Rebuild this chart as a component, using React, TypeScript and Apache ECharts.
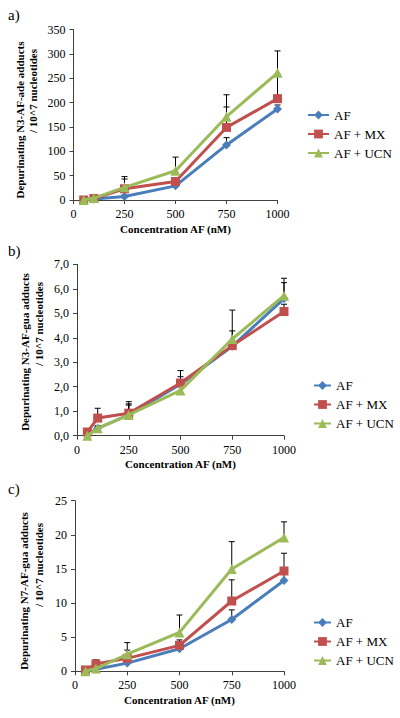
import React, { useEffect, useRef } from 'react';
import * as echarts from 'echarts';

const concentrations = [50, 100, 250, 500, 750, 1000];
const seriesNames = ['AF', 'AF + MX', 'AF + UCN'];
const xTicks = [0, 250, 500, 750, 1000];

// Panel a) N3-AF-ade
const adeAF = [0, 2, 7, 29, 113, 187];
const adeMX = [0, 3, 23, 38, 149, 208];
const adeUCN = [0, 4, 26, 60, 171, 261];
const adeErrAF = [1, 1, 3, 5, 15, 8];
const adeErrMX = [1, 2, 20, 8, 42, 50];
const adeErrUCN = [1, 2, 22, 28, 45, 45];

// Panel b) N3-AF-gua
const n3AF = [0.05, 0.3, 0.85, 2.1, 3.65, 5.6];
const n3MX = [0.15, 0.72, 0.92, 2.15, 3.68, 5.07];
const n3UCN = [0.0, 0.3, 0.85, 1.85, 3.95, 5.72];
const n3ErrAF = [0.02, 0.1, 0.45, 0.31, 0.2, 0.65];
const n3ErrMX = [0.05, 0.4, 0.47, 0.51, 0.6, 0.3];
const n3ErrUCN = [0.02, 0.1, 0.4, 0.3, 1.18, 0.71];

// Panel c) N7-AF-gua
const n7AF = [0, 0.3, 1.2, 3.3, 7.6, 13.3];
const n7MX = [0.2, 1.07, 1.9, 3.8, 10.3, 14.7];
const n7UCN = [0.0, 0.4, 2.5, 5.7, 15.0, 19.6];
const n7ErrAF = [0.1, 0.2, 0.4, 0.5, 1.4, 1.0];
const n7ErrMX = [0.1, 0.6, 1.2, 0.8, 3.1, 2.6];
const n7ErrUCN = [0.1, 0.3, 1.7, 2.55, 4.0, 2.3];

const yMaxes = [350, 7, 25];
const yIntervals = [50, 1, 5];
const panelLabels = ['a)', 'b)', 'c)'];
const yTitles = [
  ['Depurinating N3-AF-ade adducts', '/ 10^7 nucleotides'],
  ['Depurinating N3-AF-gua adducts', '/ 10^7 nucleotides'],
  ['Depurinating N7-AF-gua adducts', '/ 10^7 nucleotides'],
];
const xTitle = 'Concentration AF (nM)';

const COLORS = ['#4A7EBB', '#C0504D', '#9BBB59'];
const SYMBOLS = ['diamond', 'rect', 'triangle'];
const SYMBOL_SIZES = [9, 9, 10];
const FONT = 'Liberation Serif';

const layout = [
  { left: 73.5, width: 204, top: 29.5, height: 170.5, legendLeft: 307, legendItemW: 21, legendTop: 108.5, labelY: 15, t1: [20, 120], t2: [33, 91] },
  { left: 77, width: 207, top: 264.3, height: 171.4, legendLeft: 313, legendItemW: 17, legendTop: 379, labelY: 251, t1: [25, 352], t2: [39, 324] },
  { left: 75, width: 209, top: 500.7, height: 170.6, legendLeft: 313, legendItemW: 17, legendTop: 616, labelY: 489, t1: [24, 591], t2: [39, 565] },
];

const panelValues = [
  [adeAF, adeMX, adeUCN],
  [n3AF, n3MX, n3UCN],
  [n7AF, n7MX, n7UCN],
];
const panelErrors = [
  [adeErrAF, adeErrMX, adeErrUCN],
  [n3ErrAF, n3ErrMX, n3ErrUCN],
  [n7ErrAF, n7ErrMX, n7ErrUCN],
];

function buildOption() {
  const grid: any[] = [];
  const xAxis: any[] = [];
  const yAxis: any[] = [];
  const series: any[] = [];
  const legend: any[] = [];
  const graphic: any[] = [];

  layout.forEach((L, p) => {
    grid.push({ left: L.left, top: L.top, width: L.width, height: L.height, containLabel: false });
    xAxis.push({
      type: 'value', gridIndex: p, min: 0, max: 1000, interval: 250,
      name: xTitle, nameLocation: 'middle', nameGap: 23,
      nameTextStyle: { fontFamily: FONT, fontWeight: 'bold', fontSize: 11, color: '#000' },
      axisLine: { show: true, onZero: false, lineStyle: { color: '#404040', width: 1 } },
      axisTick: { show: true, length: 4, lineStyle: { color: '#404040' } },
      axisLabel: { fontFamily: FONT, fontSize: 12, color: '#000', margin: 8,
        formatter: (v: number) => (xTicks.indexOf(v) >= 0 ? String(v) : '') },
      splitLine: { show: false },
    });
    yAxis.push({
      type: 'value', gridIndex: p, min: 0, max: yMaxes[p], interval: yIntervals[p],
      axisLine: { show: true, lineStyle: { color: '#404040', width: 1 } },
      axisTick: { show: true, length: 4, lineStyle: { color: '#404040' } },
      axisLabel: { fontFamily: FONT, fontSize: 12, color: '#000', margin: 8,
        formatter: (v: number) => (p === 1 ? v.toFixed(1).replace('.', ',') : String(v)) },
      splitLine: { show: false },
    });

    // error bars beneath lines
    panelValues[p].forEach((vals, s) => {
      const errs = panelErrors[p][s];
      series.push({
        type: 'custom', name: 'err-' + p + '-' + s, xAxisIndex: p, yAxisIndex: p, z: 1, silent: true,
        data: concentrations.map((c, i) => [c, vals[i], errs[i]]),
        encode: { x: 0, y: 1 },
        renderItem: (params: any, api: any) => {
          const x = api.value(0), y = api.value(1), e = api.value(2);
          const p0 = api.coord([x, y]);
          const p1 = api.coord([x, y + e]);
          const style = { stroke: '#000', lineWidth: 1 };
          return {
            type: 'group',
            children: [
              { type: 'line', shape: { x1: p0[0], y1: p0[1], x2: p1[0], y2: p1[1] }, style },
              { type: 'line', shape: { x1: p1[0] - 3, y1: p1[1], x2: p1[0] + 3, y2: p1[1] }, style },
            ],
          };
        },
      });
    });

    panelValues[p].forEach((vals, s) => {
      series.push({
        type: 'line', name: seriesNames[s], xAxisIndex: p, yAxisIndex: p, z: 2 + s,
        data: concentrations.map((c, i) => [c, vals[i]]),
        symbol: SYMBOLS[s], symbolSize: SYMBOL_SIZES[s], showSymbol: true, clip: false,
        lineStyle: { color: COLORS[s], width: 3 },
        itemStyle: { color: COLORS[s] },
      });
    });

    legend.push({
      orient: 'vertical', left: L.legendLeft, top: L.legendTop, itemWidth: L.legendItemW, itemHeight: 11, itemGap: 6,
      selectedMode: false, data: seriesNames, padding: 0,
      textStyle: { fontFamily: FONT, fontSize: 13, color: '#000' },
    });

    graphic.push({
      type: 'text', left: 8, top: L.labelY - 8,
      style: { text: panelLabels[p], fontFamily: FONT, fontSize: 15, fill: '#000' },
    });
    graphic.push({
      type: 'text', x: L.t1[0], y: L.t1[1], rotation: Math.PI / 2,
      style: { text: yTitles[p][0], fontFamily: FONT, fontSize: 11, fontWeight: 'bold', fill: '#000', align: 'center', verticalAlign: 'middle' },
    });
    graphic.push({
      type: 'text', x: L.t2[0], y: L.t2[1], rotation: Math.PI / 2,
      style: { text: yTitles[p][1], fontFamily: FONT, fontSize: 11, fontWeight: 'bold', fill: '#000', align: 'center', verticalAlign: 'middle' },
    });
  });

  return { animation: false, backgroundColor: '#fff', grid, xAxis, yAxis, series, legend, graphic };
}

export default function App() {
  const ref = useRef<HTMLDivElement>(null);
  useEffect(() => {
    if (!ref.current) return;
    const chart = echarts.init(ref.current, null, { renderer: 'svg' });
    chart.setOption(buildOption() as any);
    return () => chart.dispose();
  }, []);
  return <div ref={ref} style={{ width: 400, height: 718, position: 'absolute', left: 0, top: 0 }} />;
}
